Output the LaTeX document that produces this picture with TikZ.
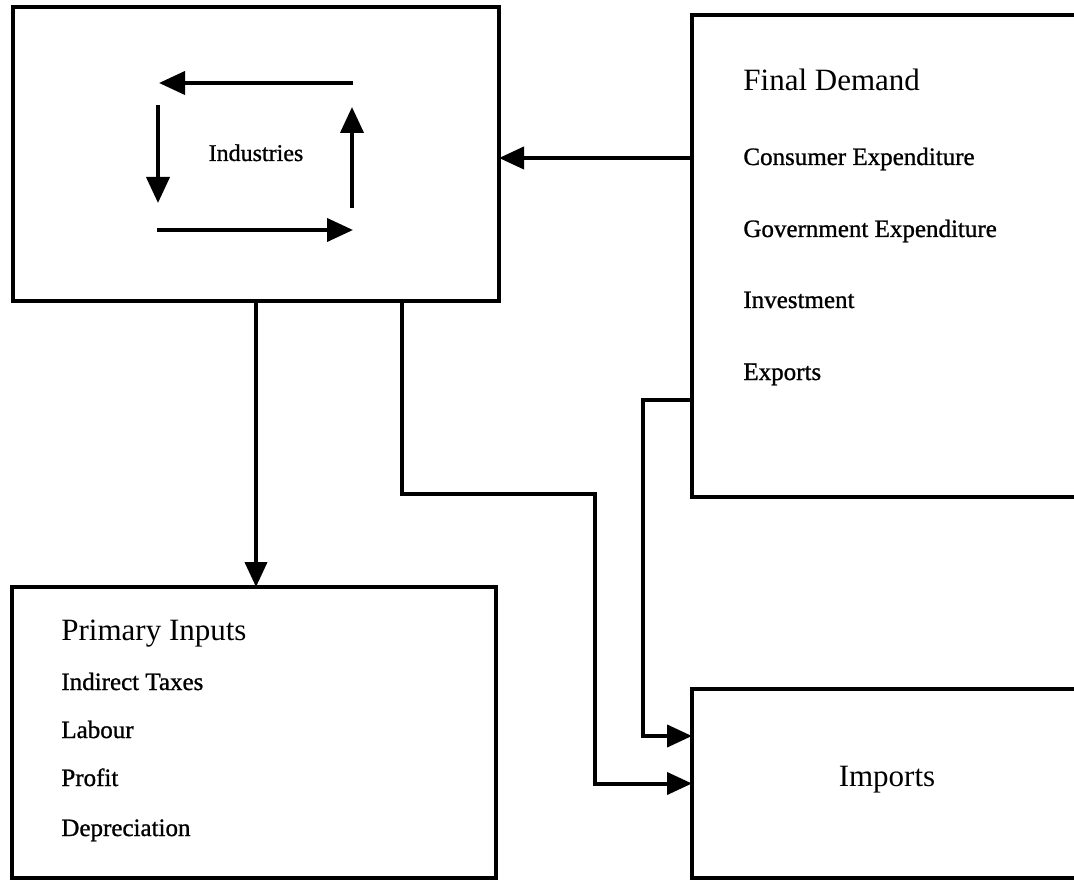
\documentclass[tikz,border=0pt]{standalone}
\usepackage{fontspec}
\setmainfont{Liberation Serif}
\newfontfamily\itemfont[FakeBold=1]{Liberation Serif}
\usetikzlibrary{arrows.meta,fit}

\tikzset{
  box/.style={draw, line width=2pt, inner sep=0pt, outer sep=0pt},
  conn/.style={draw, line width=2pt, -{Triangle[length=12.5pt,width=11pt]}},
  cycarrow/.style={draw, line width=2pt, -{Triangle[length=13pt,width=11.5pt]}},
  title/.style={anchor=base west, inner sep=0pt, font=\fontsize{15.5pt}{18pt}\selectfont},
  item/.style={anchor=base west, inner sep=0pt, font=\itemfont\fontsize{12.5pt}{15pt}\selectfont},
}

\begin{document}
\begin{tikzpicture}[x=0.5pt, y=-0.5pt]
  \useasboundingbox (0,0) rectangle (1074,881);
  \clip (0,0) rectangle (1074,881);

  % the four blocks
  \node[box, fit={(13,7) (499,301)}] (ind) {};
  \node[box, fit={(692,15) (1100,497)}] (fd) {};
  \node[box, fit={(12,587) (496,878)}] (pri) {};
  \node[box, fit={(692,689) (1100,878)}] (imp) {};

  % inter-industry flows
  \node[anchor=base, inner sep=0pt, font=\itemfont\fontsize{12pt}{14pt}\selectfont] (indt) at (256,161) {Industries};
  \draw[cycarrow] (353,83) -- (159,83);
  \draw[cycarrow] (158,105) -- (158,203);
  \draw[cycarrow] (157,230) -- (353,230);
  \draw[cycarrow] (352,208) -- (352,107);

  % final demand
  \node[title] (fdt) at (743,91) {Final Demand};
  \node[item] (fd1) at (743,165) {Consumer Expenditure};
  \node[item] (fd2) at (743,237) {Government Expenditure};
  \node[item] (fd3) at (743,308) {Investment};
  \node[item] (fd4) at (743,380) {Exports};

  % primary inputs
  \node[title] (prt) at (61,640) {Primary Inputs};
  \node[item] (pr1) at (61,690) {Indirect Taxes};
  \node[item] (pr2) at (61,738) {Labour};
  \node[item] (pr3) at (61,786) {Profit};
  \node[item] (pr4) at (61,836) {Depreciation};

  % imports
  \node[anchor=center, inner sep=0pt, font=\fontsize{15.5pt}{18pt}\selectfont] (impt) at (887,780) {Imports};

  % connectors
  \draw[conn] ([yshift=-2pt]ind.east -| fd.west) -- ([yshift=-2pt]ind.east);
  \draw[conn] (ind.south) -- (ind.south |- pri.north);
  \draw[conn] ([xshift=73pt]ind.south) |- (595,494) |- (imp.west);
  \draw[conn] ([yshift=-72pt]fd.west) -- ++(-24.5pt,0) |- ([yshift=23.75pt]imp.west);
\end{tikzpicture}
\end{document}
